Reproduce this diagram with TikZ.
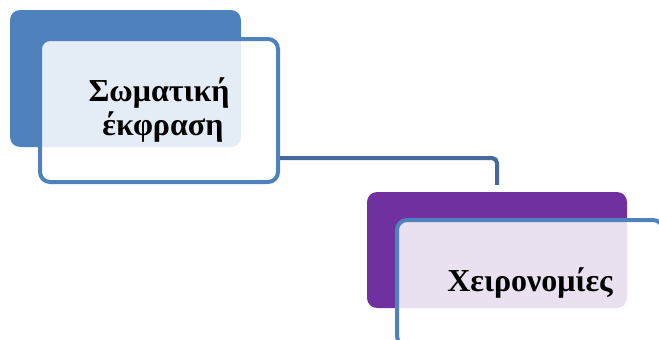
\documentclass[tikz,border=0pt]{standalone}
\usepackage{fontspec}
\setmainfont{Liberation Serif}
\usetikzlibrary{positioning}
\definecolor{backblue}{HTML}{4F81BD}
\definecolor{linkblue}{HTML}{45699A}
\definecolor{backpurple}{HTML}{7030A0}

\begin{document}
\begin{tikzpicture}[
    x=1pt, y=-1pt,
    back/.style={rounded corners=10pt, anchor=center},
    card/.style={draw=backblue, line width=4pt, rounded corners=10pt, fill=white, fill opacity=0.85,
        text opacity=1, align=center, font=\fontsize{32}{34}\selectfont\bfseries},
    link/.style={draw=linkblue, line width=4pt, rounded corners=5pt}
]
\useasboundingbox (0,0) rectangle (659,340);
\clip (0,0) rectangle (659,340);

\node[back, fill=backblue, minimum width=231pt, minimum height=137pt] (back1) at (125.5,78.5) {};
\node[card, minimum width=238pt, minimum height=143pt] (card1) at (159,110.5) {Σωματική\\\ έκφραση};

\node[back, fill=backpurple, minimum width=260pt, minimum height=116pt] (back2) at (497,250) {};
\node[card, minimum width=266pt, minimum height=126pt] (card2) at (530,283) {Χειρονομίες};

\draw[link, shorten >=7pt] ([yshift=-47.5pt]card1.east) -| (back2.north);
\end{tikzpicture}
\end{document}
